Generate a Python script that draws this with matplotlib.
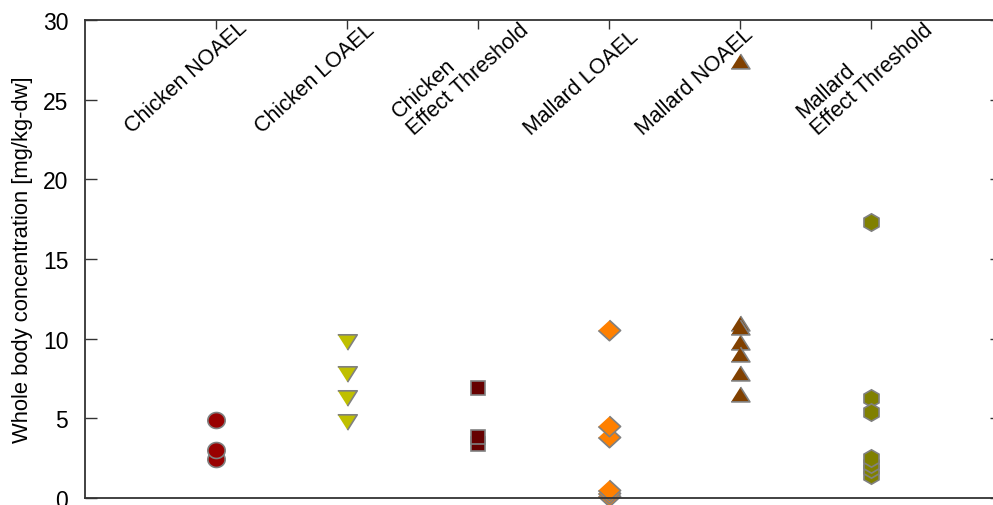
import numpy as np
import matplotlib.pyplot as plt

plt.rcParams['font.family'] = ['Liberation Sans', 'DejaVu Sans']

# Whole body concentrations per endpoint [mg/kg-dw]
chicken_noael = [4.9, 2.45, 3.0]
chicken_loael = [9.8, 7.8, 6.3, 4.8]
chicken_threshold = [6.9, 3.4, 3.8]
mallard_loael = [10.55, 3.8, 4.55, 0.15, 0.3, 0.5]
mallard_noael = [27.4, 11.0, 10.75, 9.8, 9.05, 7.85, 6.55]
mallard_threshold = [17.3, 6.3, 5.4, 1.45, 1.8, 2.15, 2.5]

categories = ["Chicken NOAEL", "Chicken LOAEL", "Chicken\nEffect Threshold",
              "Mallard LOAEL", "Mallard NOAEL", "Mallard\nEffect Threshold"]

series = [chicken_noael, chicken_loael, chicken_threshold,
          mallard_loael, mallard_noael, mallard_threshold]

# marker outlines, slightly flattened vertically
t = np.linspace(0, 2 * np.pi, 41)
ellipse = list(zip(np.cos(t), 0.92 * np.sin(t)))
tri_down = [(-1, 0.79), (1, 0.79), (0, -0.79)]
tri_up = [(-1, -0.79), (1, -0.79), (0, 0.79)]
diamond = [(0, 0.92), (1.0, 0), (0, -0.92), (-1.0, 0)]

styles = [
    dict(marker=ellipse, ms=12.5, color='#990000'),
    dict(marker=tri_down, ms=14, color='#bfbf00'),
    dict(marker='s', ms=10, color='#660000'),
    dict(marker=diamond, ms=16, color='#ff8000'),
    dict(marker=tri_up, ms=13.5, color='#804000'),
    dict(marker='h', ms=12.5, color='#808000'),
]

# label placement: baseline start of last line, pixels from tick at top
label_offsets = [(-84, 113), (-85, 113), (-65, 114), (-78, 115), (-97, 115), (-54, 114)]

fig = plt.figure(figsize=(9.93, 5.06), dpi=100)
ax = fig.add_axes([85 / 993, 7 / 506, 917 / 993, 478 / 506])

for i, (vals, st) in enumerate(zip(series, styles)):
    ax.plot([i + 1] * len(vals), vals, linestyle='none', marker=st['marker'],
            markersize=st['ms'], markerfacecolor=st['color'],
            markeredgecolor='#808080', markeredgewidth=1.2, clip_on=False)

ax.set_xlim(0, 7)
ax.set_ylim(0, 30)
ax.set_yticks(range(0, 31, 5))
ax.set_xticks(range(1, 7))
ax.tick_params(axis='x', which='both', bottom=False, top=True, labelbottom=False,
               direction='in', length=6.5, width=1, color='#333333')
ax.tick_params(axis='y', which='both', left=True, right=True, direction='in',
               length=8.5, width=1, color='#333333', labelsize=16.5, pad=12)
for sp in ax.spines.values():
    sp.set_color('#333333')
    sp.set_linewidth(1.3)

ax.set_ylabel("Whole body concentration [mg/kg-dw]", fontsize=15.8, labelpad=7)

for i, (lab, (dx, dy)) in enumerate(zip(categories, label_offsets)):
    ax.annotate(lab, xy=(i + 1, 1), xycoords=('data', 'axes fraction'),
                xytext=(dx * 0.72, -dy * 0.72), textcoords='offset points',
                rotation=42, rotation_mode='anchor', ha='left', va='baseline',
                multialignment='left', linespacing=1.1, fontsize=15.5)

fig.savefig("out.png", dpi=100)
